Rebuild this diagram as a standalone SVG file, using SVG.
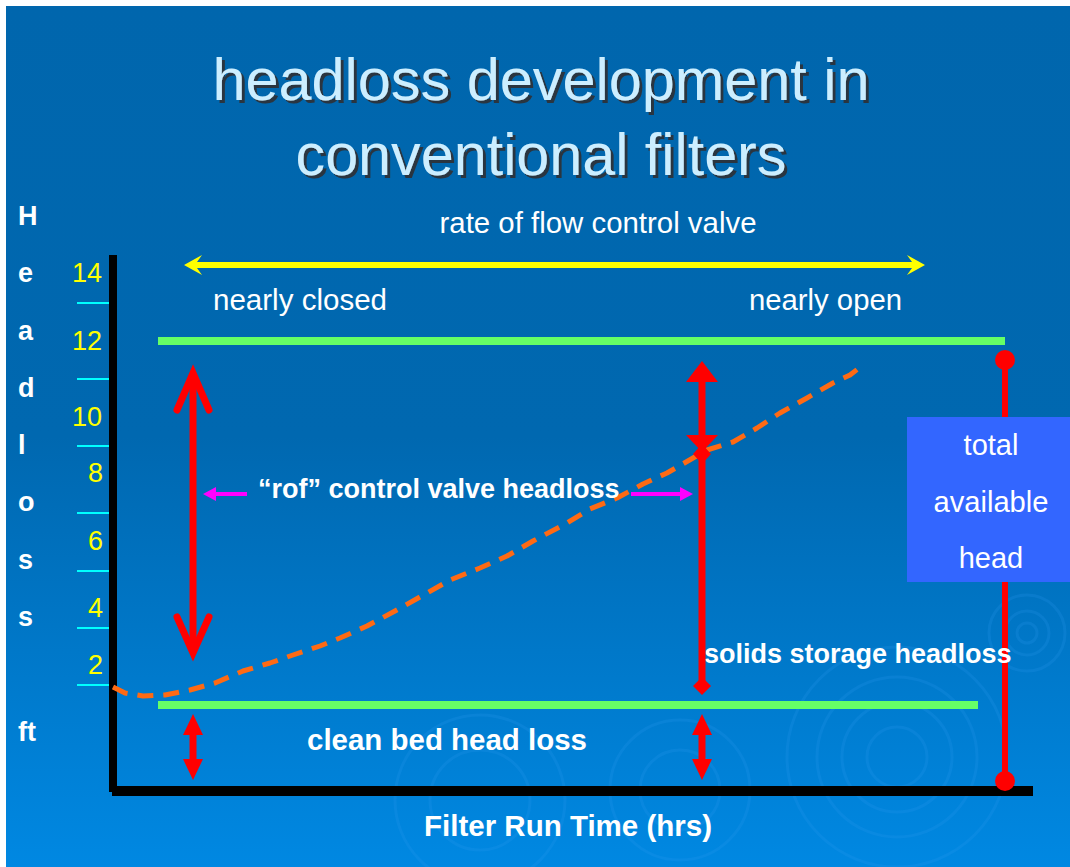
<svg xmlns="http://www.w3.org/2000/svg" width="1070" height="867" viewBox="0 0 1070 867">
<defs>
<linearGradient id="bg" x1="0" y1="0" x2="0" y2="1">
<stop offset="0" stop-color="#0066AD"/>
<stop offset="0.5" stop-color="#0068B0"/>
<stop offset="1" stop-color="#0088E2"/>
</linearGradient>
<filter id="shadow" x="-5%" y="-20%" width="110%" height="140%">
<feDropShadow dx="3" dy="3" stdDeviation="0" flood-color="#2A3440" flood-opacity="1"/>
</filter>
<style>
.reg{font-family:"Liberation Sans",Arial,sans-serif;fill:#FFFFFF;font-size:29px}
.bold{font-family:"Liberation Sans",Arial,sans-serif;fill:#FFFFFF;font-weight:bold}
.num{font-family:"Liberation Sans",Arial,sans-serif;fill:#FFFF00;font-size:27px;text-anchor:end}
.vert{font-family:"Liberation Sans",Arial,sans-serif;fill:#FFFFFF;font-weight:bold;font-size:27px}
.title{font-family:"Liberation Sans",Arial,sans-serif;font-size:60px;text-anchor:middle;fill:#CCEEFF}
.tick{stroke:#00FFFF;stroke-width:2}
.green{stroke:#66FF66;stroke-width:8}
.red{stroke:#FF0000;fill:none}
.redf{fill:#FF0000}
.mag{stroke:#FF00FF;stroke-width:4}
.ripple{fill:none;stroke:#2E9BF0;stroke-opacity:0.2;stroke-width:3}
</style>
</defs>
<rect x="0" y="0" width="1070" height="867" fill="#FFFFFF"/>
<rect x="6" y="6" width="1064" height="861" fill="url(#bg)"/>
<g id="ripples">
<circle class="ripple" cx="897" cy="757" r="30"/>
<circle class="ripple" cx="897" cy="757" r="55"/>
<circle class="ripple" cx="897" cy="757" r="80"/>
<circle class="ripple" cx="897" cy="757" r="110"/>
<circle class="ripple" cx="1027" cy="633" r="10"/>
<circle class="ripple" cx="1027" cy="633" r="22"/>
<circle class="ripple" cx="1027" cy="633" r="38"/>
<circle class="ripple" cx="480" cy="800" r="50"/>
<circle class="ripple" cx="480" cy="800" r="85"/>
<circle class="ripple" cx="680" cy="790" r="40"/>
<circle class="ripple" cx="680" cy="790" r="70"/>
</g>
<g id="title" filter="url(#shadow)">
<text class="title" x="541" y="100" textLength="657" lengthAdjust="spacingAndGlyphs">headloss development in</text>
<text class="title" x="541" y="175" textLength="491" lengthAdjust="spacingAndGlyphs">conventional filters</text>
</g>
<g id="y-axis-label">
<text class="vert" x="18" y="225">H</text>
<text class="vert" x="18" y="282">e</text>
<text class="vert" x="18" y="340">a</text>
<text class="vert" x="18" y="397">d</text>
<text class="vert" x="18" y="454">l</text>
<text class="vert" x="18" y="511">o</text>
<text class="vert" x="18" y="569">s</text>
<text class="vert" x="18" y="626">s</text>
<text class="vert" x="18" y="741">ft</text>
</g>
<g id="y-scale">
<line class="tick" x1="77" y1="303" x2="112" y2="303"/>
<line class="tick" x1="77" y1="379" x2="112" y2="379"/>
<line class="tick" x1="77" y1="446" x2="112" y2="446"/>
<line class="tick" x1="77" y1="513" x2="112" y2="513"/>
<line class="tick" x1="77" y1="571" x2="112" y2="571"/>
<line class="tick" x1="77" y1="628" x2="112" y2="628"/>
<line class="tick" x1="77" y1="685" x2="112" y2="685"/>
<text class="num" x="102" y="282">14</text>
<text class="num" x="102" y="350">12</text>
<text class="num" x="102" y="426">10</text>
<text class="num" x="103" y="482">8</text>
<text class="num" x="103" y="550">6</text>
<text class="num" x="103" y="617">4</text>
<text class="num" x="103" y="674">2</text>
</g>
<g id="axes">
<rect x="109" y="255" width="8" height="537" fill="#000000"/>
<rect x="112" y="786" width="921" height="10" fill="#000000"/>
</g>
<g id="x-axis-label">
<text class="bold" x="568" y="836" font-size="29" text-anchor="middle" textLength="288" lengthAdjust="spacingAndGlyphs">Filter Run Time (hrs)</text>
</g>
<g id="levels">
<line class="green" x1="158" y1="341" x2="1005" y2="341"/>
<line class="green" x1="158" y1="705" x2="978" y2="705"/>
</g>
<g id="valve-labels">
<text class="reg" x="598" y="233" text-anchor="middle" textLength="317" lengthAdjust="spacingAndGlyphs">rate of flow control valve</text>
<text class="reg" x="213" y="310" textLength="174" lengthAdjust="spacingAndGlyphs">nearly closed</text>
<text class="reg" x="749" y="310" textLength="153" lengthAdjust="spacingAndGlyphs">nearly open</text>
</g>
<g id="headloss-curve">
<polyline points="113,687 125,693 143,696 165,695 190,690 215,683 243,671 270,663 293,655 320,646 340,638 367,626 395,611 420,597 450,580 480,568 507,556 533,541 567,523 590,509 617,498 643,484 667,473 693,458 707,450 733,442 757,428 780,413 807,398 833,383 850,375 863,365" fill="none" stroke="#FF6A13" stroke-width="5" stroke-dasharray="16,10" stroke-linejoin="round"/>
</g>
<g id="total-head">
<line class="red" x1="1005" y1="360" x2="1005" y2="781" stroke-width="6"/>
<circle class="redf" cx="1005" cy="360" r="10"/>
<circle class="redf" cx="1005" cy="781" r="10"/>
<rect x="907" y="417" width="163" height="165" fill="#3366FF"/>
<text class="reg" x="991" y="455" text-anchor="middle">total</text>
<text class="reg" x="991" y="512" text-anchor="middle" textLength="115" lengthAdjust="spacingAndGlyphs">available</text>
<text class="reg" x="991" y="568" text-anchor="middle">head</text>
</g>
<g id="labels">
<text class="bold" x="258" y="498" font-size="27">“rof” control valve headloss</text>
<text class="bold" x="704" y="663" font-size="27">solids storage headloss</text>
<text class="bold" x="307" y="750" font-size="29" textLength="280" lengthAdjust="spacingAndGlyphs">clean bed head loss</text>
</g>
<g id="connectors">
<line x1="195" y1="265" x2="915" y2="265" stroke="#FFFF00" stroke-width="6"/>
<polygon points="184,265 202,255 197,262 197,268 202,275" fill="#FFFF00"/>
<polygon points="925,265 907,255 912,262 912,268 907,275" fill="#FFFF00"/>
<line class="red" x1="193" y1="376" x2="193" y2="650" stroke-width="7"/>
<polyline class="red" points="177,410 193,373 209,410" stroke-width="7" stroke-linecap="round"/>
<polyline class="red" points="177,617 193,653 209,617" stroke-width="7" stroke-linecap="round"/>
<line class="mag" x1="247" y1="494" x2="212" y2="494"/>
<polygon points="203,494 216,487 216,501" fill="#FF00FF"/>
<line class="mag" x1="631" y1="494" x2="682" y2="494"/>
<polygon points="693,494 680,487 680,501" fill="#FF00FF"/>
<line class="red" x1="702" y1="375" x2="702" y2="686" stroke-width="7"/>
<polygon class="redf" points="702,361 686,382 718,382"/>
<polygon class="redf" points="686,435 718,435 702,452"/>
<polygon class="redf" points="702,444 711,454 702,464 693,454"/>
<polygon class="redf" points="702,677 711,686 702,695 693,686"/>
<line class="red" x1="193" y1="733" x2="193" y2="761" stroke-width="7"/>
<polygon class="redf" points="193,714 183,735 203,735"/>
<polygon class="redf" points="183,759 203,759 193,780"/>
<line class="red" x1="702" y1="733" x2="702" y2="761" stroke-width="7"/>
<polygon class="redf" points="702,714 692,735 712,735"/>
<polygon class="redf" points="692,759 712,759 702,780"/>
</g>
</svg>
